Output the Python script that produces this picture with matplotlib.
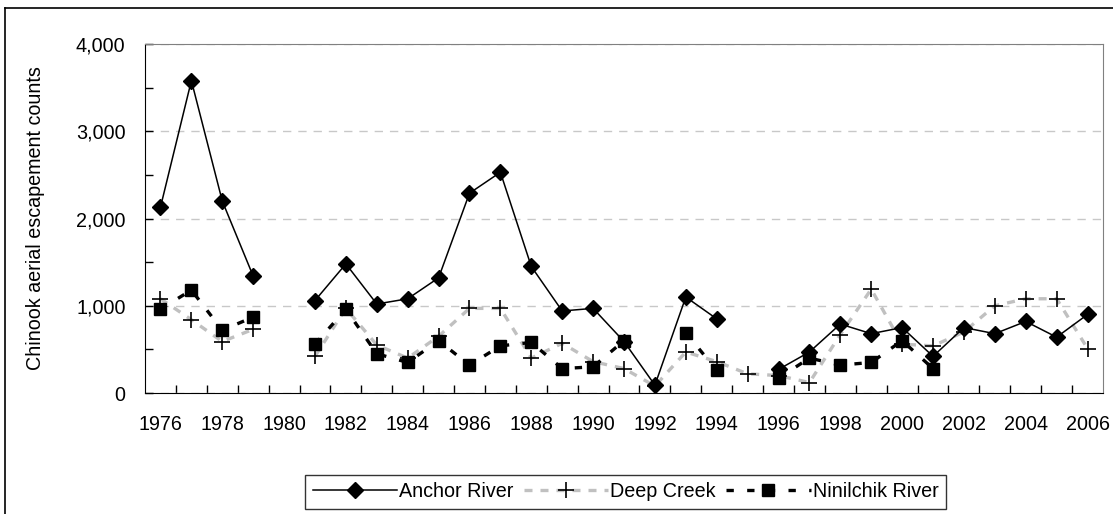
import matplotlib
matplotlib.use("Agg")
import matplotlib.pyplot as plt
import numpy as np
from matplotlib.lines import Line2D
from matplotlib.ticker import FuncFormatter, MultipleLocator

plt.rcParams["font.family"] = ["Liberation Sans", "DejaVu Sans"]

years = list(range(1976, 2007))
nan = np.nan

anchor = [2130, 3580, 2200, 1340, nan, 1060, 1480, 1020, 1080, 1320,
          2290, 2530, 1450, 940, 970, 590, 90, 1100, 850, nan,
          270, 470, 790, 680, 750, 420, 750, 680, 820, 640, 900]
deep_creek = [1080, 840, 590, 730, nan, 420, 970, 550, 400, 650,
              970, 970, 400, 570, 360, 280, 80, 470, 360, 220,
              200, 120, 670, 1190, 560, 540, 700, 1000, 1080, 1080, 510]
ninilchik = [960, 1180, 720, 870, nan, 560, 960, 450, 350, 600,
             320, 540, 580, 280, 300, 600, nan, 690, 260, nan,
             170, 400, 320, 350, 600, 280, nan, nan, nan, nan, nan]

fs = 14.2

fig = plt.figure(figsize=(11.13, 5.14), dpi=100)
ax = fig.add_axes([0.1303, 0.2354, 0.8607, 0.679])

x = np.array(years)
ax.plot(x, deep_creek, color="#c0c0c0", lw=2.4, dashes=(2.4, 2.4),
        marker="+", ms=11, mec="black", mew=1.2, label="Deep Creek", zorder=3)
ax.plot(x, ninilchik, color="black", lw=2.4, dashes=(2.2, 4.0),
        marker="s", ms=9, mfc="black", mec="black", label="Ninilchik River", zorder=4)
ax.plot(x, anchor, color="black", lw=1.1, marker="D", ms=8.5,
        mfc="black", mec="black", label="Anchor River", zorder=5)

ax.set_xlim(1975.5, 2006.5)
ax.set_ylim(0, 4000)
ax.yaxis.set_major_locator(MultipleLocator(1000))
ax.yaxis.set_minor_locator(MultipleLocator(500))
ax.yaxis.set_major_formatter(FuncFormatter(lambda v, p: f"{int(v):,}"))
ax.set_xticks(years[::2])
ax.set_xticks(np.arange(1976.5, 2006.5, 1), minor=True)
ax.tick_params(axis="x", which="major", length=0, pad=16, labelsize=fs)
ax.tick_params(axis="x", which="minor", direction="in", length=6, width=1)
ax.tick_params(axis="y", which="both", direction="in", length=6, width=1,
               labelsize=fs, pad=14)
ax.grid(axis="y", which="major", color="#c8c8c8", ls=(0, (6, 5)), lw=1)
ax.set_axisbelow(True)

for side in ("top", "right"):
    ax.spines[side].set_color("#808080")
for side in ("left", "bottom"):
    ax.spines[side].set_color("black")

ax.set_ylabel("Chinook aerial escapement counts", fontsize=fs, labelpad=22)

h, l = ax.get_legend_handles_labels()
order = [2, 0, 1]
leg = fig.legend([h[i] for i in order], [l[i] for i in order], ncol=3,
                 loc="center", bbox_to_anchor=(0.562, 0.043), fontsize=fs,
                 frameon=True, fancybox=False, edgecolor="black",
                 handlelength=4.3, handletextpad=0.1, columnspacing=0.5,
                 borderpad=0.4, borderaxespad=0)
leg.get_frame().set_linewidth(1)

fig.add_artist(Line2D([5 / 1113, 5 / 1113], [0, 1 - 8 / 514],
                      transform=fig.transFigure, color="black", lw=1.2))
fig.add_artist(Line2D([5 / 1113, 1], [1 - 8 / 514, 1 - 8 / 514],
                      transform=fig.transFigure, color="black", lw=1.2))

fig.savefig("out.png", dpi=100)
